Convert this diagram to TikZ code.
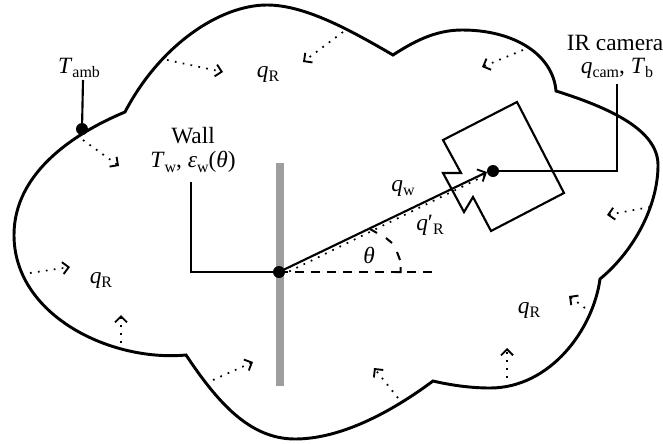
\documentclass[tikz,border=0pt]{standalone}
\usepackage{fontspec}
\setmainfont{Liberation Serif}
\usetikzlibrary{arrows.meta}
\newcommand{\sbs}[1]{\raisebox{-0.2em}{\fontsize{12pt}{13pt}\selectfont\upshape #1}}
\tikzset{
  outline/.style={draw=black,line width=2.2pt,line join=miter},
  wire/.style={draw=black,line width=1.6pt},
  dotflow/.style={draw=black,line width=1.3pt,dash pattern=on 1.3pt off 4.7pt,-{Straight Barb[length=4.5pt,width=9pt,line width=1.4pt]}},
  junction/.style={circle,fill=black,inner sep=0pt,minimum size=9pt},
  lbl/.style={inner sep=0pt,font=\fontsize{17.5pt}{19pt}\selectfont},
  wallbar/.style={fill=black!38,draw=none},
  angleline/.style={draw=black,line width=1.5pt,dash pattern=on 7pt off 5pt}
}
\begin{document}
\begin{tikzpicture}[x=0.75pt,y=-0.75pt]
\useasboundingbox (0,0) rectangle (663,443);
% enclosure
\draw[outline]
 (125,112) .. controls (160,45) and (220,5) .. (267,5)
 .. controls (305,5) and (350,30) .. (393,55)
 .. controls (413,42) and (435,30) .. (462,30)
 .. controls (515,30) and (553,55) .. (556,91)
 .. controls (610,108) and (658,130) .. (658,165)
 .. controls (658,205) and (635,250) .. (600,279)
 .. controls (593,330) and (550,388) .. (490,388)
 .. controls (470,388) and (450,385) .. (433,381)
 .. controls (390,413) and (340,439) .. (295,439)
 .. controls (250,439) and (218,403) .. (186,355)
 .. controls (110,362) and (14,315) .. (14,235)
 .. controls (14,175) and (70,135) .. (125,112) -- cycle;
% wall
\fill[wallbar] (276,163) rectangle (284,386);
% named points
\node[junction] (wallpt) at (279,272) {};
\node[junction] (campt) at (493,171) {};
\node[junction] (ambpt) at (82,129) {};
\coordinate (tip) at (487,172);
\coordinate (tipb) at (484,176);
\coordinate (dotstart) at (282,275);
\coordinate (wallcorner) at (191,272);
\coordinate (walltop) at (191,182);
\coordinate (camcorner) at (617,171);
\coordinate (camtop) at (617,84);
\coordinate (ambtop) at (83,80);
\coordinate (dashend) at (433,272);
% camera
\draw[wire,line join=miter] (443,140) -- (517,102) -- (564,193) -- (491,231) -- (473,197) -- (464,212) -- (443,173) -- (461,173) -- cycle;
% wires
\draw[wire] (wallpt.center) -- (wallcorner) -- (walltop);
\draw[wire] (campt.center) -- (camcorner) -- (camtop);
\draw[wire] (ambpt.center) -- (ambtop);
\draw[wire,-{Straight Barb[length=5pt,width=10pt,line width=1.4pt]}] (wallpt.center) -- (tip);
\draw[dotflow,-] (dotstart) -- (tipb);
\draw[angleline] (wallpt.center) -- (dashend);
\draw[wire,line width=1.5pt] (395,272) -- (400.5,272) -- (400.5,267)
  (400,260) -- (397,252) (392,243) -- (386,238) (377,233) -- (370,229);
% radiation arrows
\coordinate (s1) at (167,60);   \coordinate (e1) at (223,72);
\coordinate (s2) at (83,140);   \coordinate (e2) at (119,166);
\coordinate (s3) at (30,273);   \coordinate (e3) at (70,267);
\coordinate (s4) at (121,343);  \coordinate (e4) at (121,315);
\coordinate (s5) at (213,380);  \coordinate (e5) at (253,362);
\coordinate (s6) at (398,398);  \coordinate (e6) at (374,368);
\coordinate (s7) at (507,378);  \coordinate (e7) at (507,348);
\coordinate (s8) at (585,308);  \coordinate (e8) at (569,296);
\coordinate (s9) at (650,207);  \coordinate (e9) at (607,215);
\coordinate (s10) at (523,50);  \coordinate (e10) at (482,67);
\coordinate (s11) at (343,32);  \coordinate (e11) at (303,62);
\foreach \i in {1,...,11} \draw[dotflow] (s\i) -- (e\i);
% labels
\node[lbl] (tamb) at (79,68) {\textit{T}\sbs{amb}};
\node[lbl] (qr1) at (268,74) {\textit{q}\sbs{R}};
\node[lbl] (qr2) at (101,280) {\textit{q}\sbs{R}};
\node[lbl] (qr3) at (529,310) {\textit{q}\sbs{R}};
\node[lbl] (wall) at (193,136) {Wall};
\node[lbl] (wallp) at (193,162) {\textit{T}\sbs{w}, \textit{ε}\sbs{w}(\textit{θ})};
\node[lbl] (ir) at (615,43) {IR camera};
\node[lbl] (camp) at (617,68) {\textit{q}\sbs{cam}, \textit{T}\sbs{b}};
\node[lbl] (qw) at (403,188) {\textit{q}\sbs{w}};
\node[lbl] (qrp) at (430,225) {\textit{q}′\sbs{R}};
\node[lbl] (th) at (369,255) {\textit{θ}};
\end{tikzpicture}
\end{document}
